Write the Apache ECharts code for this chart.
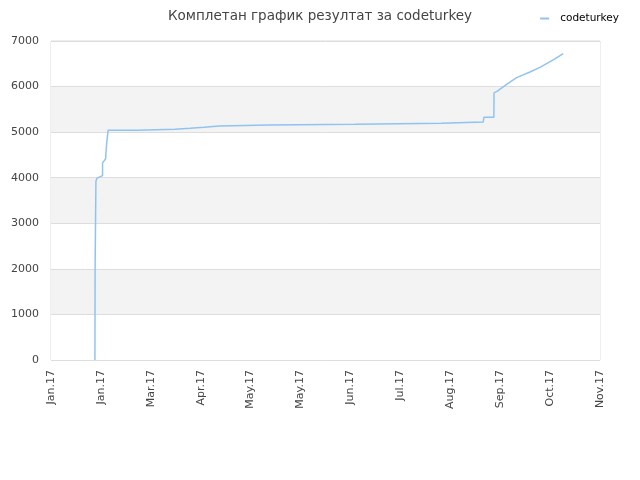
<!DOCTYPE html>
<html><head><meta charset="utf-8">
<script src="https://cdn.jsdelivr.net/npm/echarts@6/dist/echarts.min.js"></script>
<style>html,body{margin:0;padding:0;background:#fff}#c{width:640px;height:480px}</style>
</head><body><div id="c"></div>
<script>
// days since 1 Jan 2017
var days = [26.4, 26.5, 27.0, 27.0, 27.6, 31.0, 31.0, 32.8, 33.4, 34.3,
  52.0, 52.1, 74.6, 74.7, 83.6, 83.7, 92.0, 92.1, 101.1, 101.2, 131.1, 131.2,
  182.8, 182.9, 234.5, 234.6, 259.8, 260.2, 266.2, 266.3, 268.3, 273.9, 279.9,
  287.9, 293.9, 301.9, 307.9];
var scores = [0, 1947, 1960, 3921, 3990, 4046, 4325, 4412, 4726, 5040,
  5040, 5061, 5061, 5083, 5083, 5105, 5105, 5136, 5136, 5158, 5158, 5171,
  5171, 5193, 5193, 5218, 5222, 5325, 5325, 5860, 5900, 6050, 6195,
  6320, 6420, 6585, 6725];
var tickLabels = ['Jan.17','Jan.17','Mar.17','Apr.17','May.17','May.17','Jun.17','Jul.17','Aug.17','Sep.17','Oct.17','Nov.17'];
var seriesName = 'codeturkey';
var titleText = 'Комплетан график резултат за codeturkey';

var data = days.map(function(d, i){ return [d, scores[i]]; });
var chart = echarts.init(document.getElementById('c'));
chart.setOption({
  animation: false,
  title: { text: titleText, left: 'center', top: 4,
    textStyle: { fontFamily: 'DejaVu Sans', fontSize: 13.5, fontWeight: 'normal', color: '#444' } },
  legend: { right: 16, top: 8, icon: 'rect', itemWidth: 9, itemHeight: 2,
    data: [seriesName],
    textStyle: { fontFamily: 'DejaVu Sans', fontSize: 10.5, color: '#000', padding: [0, 0, 0, 6] } },
  grid: { left: 51, top: 41, right: 40, bottom: 120, show: true, borderColor: '#ddd', borderWidth: 1 },
  xAxis: { type: 'value', min: 0, max: 330, interval: 30,
    axisLine: { show: false }, axisTick: { show: false }, splitLine: { show: false },
    axisLabel: { rotate: 90, fontFamily: 'DejaVu Sans', fontSize: 11, color: '#444', margin: 10,
      formatter: function(v){ return tickLabels[Math.round(v / 30)] || ''; } } },
  yAxis: { type: 'value', min: 0, max: 7000, interval: 1000,
    axisLine: { show: false }, axisTick: { show: false },
    splitLine: { lineStyle: { color: '#ddd' } },
    splitArea: { show: true, areaStyle: { color: ['#ffffff', '#f3f3f3'] } },
    axisLabel: { fontFamily: 'DejaVu Sans', fontSize: 11, color: '#444', margin: 12,
      formatter: function(v){ return String(v); } } },
  series: [{ name: seriesName, type: 'line', data: data, showSymbol: false, symbol: 'none',
    lineStyle: { color: '#90c3f1', width: 1.5 }, itemStyle: { color: '#90c3f1' } }]
});
</script></body></html>
